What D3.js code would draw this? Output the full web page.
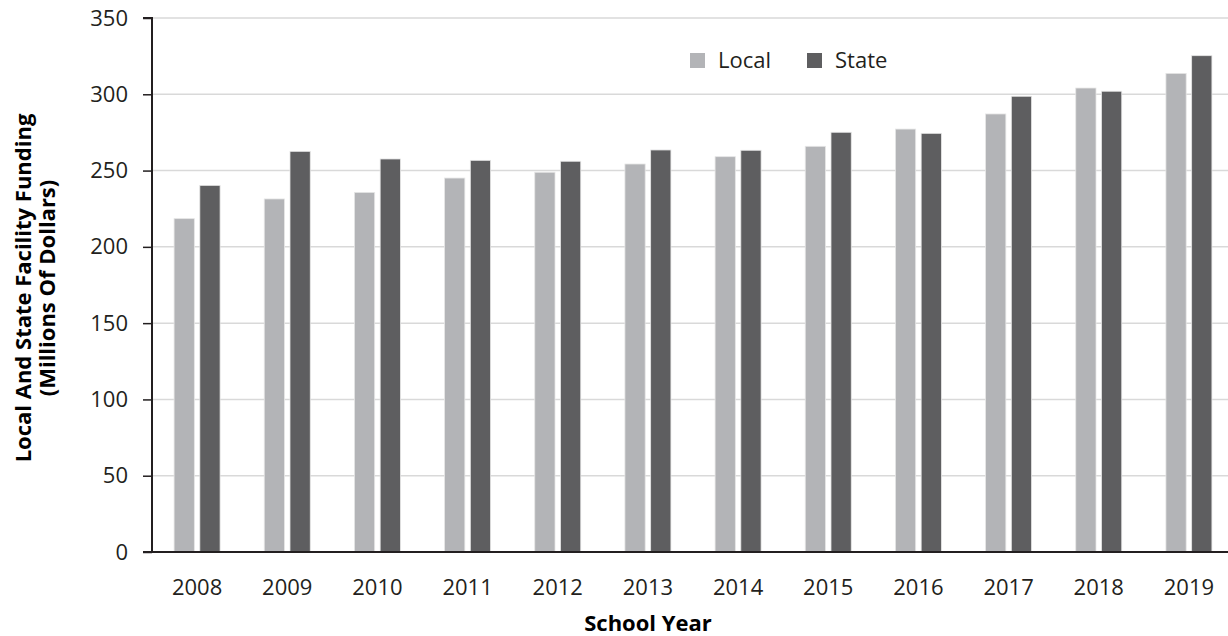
<!DOCTYPE html>
<html><head><meta charset="utf-8">
<script src="https://cdn.jsdelivr.net/npm/d3@7"></script>
<style>body{margin:0;background:#fff}svg{display:block}text{font-family:"Open Sans","Noto Sans",sans-serif}</style>
</head><body>
<svg id="c" width="1228" height="636"></svg>
<script>
const years = ["2008","2009","2010","2011","2012","2013","2014","2015","2016","2017","2018","2019"];
const seriesNames = ["Local","State"];
const localValues = [218.5,231.4,235.7,245.1,248.9,254.3,259.1,265.9,277.2,287.1,304.1,313.7];
const stateValues = [240.3,262.6,257.6,256.7,256.1,263.5,263.3,275.1,274.4,298.7,302.0,325.3];
const yTicks = [0,50,100,150,200,250,300,350];
const colors = {Local:"#b3b4b7", State:"#5e5e60"};

(function(){
const svg = d3.select("#c");
const pL = 152, pR = 1234, pT = 18, pB = 552;
const x0 = d3.scaleBand().domain(years).range([pL,pR]).padding(0);
const groupW = 46;
const x1 = d3.scaleBand().domain(seriesNames).range([0,groupW]).paddingInner(0.213);
const y = d3.scaleLinear().domain([0,350]).range([pB,pT]);

svg.append("g").selectAll("line").data(yTicks.filter(d=>d>0)).join("line")
  .attr("x1",pL).attr("x2",1228).attr("y1",d=>y(d)).attr("y2",d=>y(d))
  .attr("stroke","#d9d9d9").attr("stroke-width",1.5);

const data = years.map((yr,i)=>({year:yr, Local:localValues[i], State:stateValues[i]}));
const g = svg.append("g").selectAll("g").data(data).join("g")
  .attr("transform",d=>`translate(${x0(d.year)+(x0.bandwidth()-groupW)/2},0)`);
g.selectAll("rect").data(d=>seriesNames.map(k=>({k,v:d[k]}))).join("rect")
  .attr("x",d=>x1(d.k)).attr("width",x1.bandwidth())
  .attr("y",d=>y(d.v)).attr("height",d=>pB-y(d.v))
  .attr("fill",d=>colors[d.k]).attr("stroke","#e6e6e6").attr("stroke-width",0.8);

const yAxis = d3.axisLeft(y).tickValues(yTicks).tickSize(9).tickPadding(15);
const ya = svg.append("g").attr("transform",`translate(${pL},0)`).call(yAxis);
ya.select(".domain").attr("stroke","#231f20").attr("stroke-width",2).attr("d",`M-9,${pT}H0V${pB}`);
ya.selectAll(".tick line").attr("stroke","#231f20").attr("stroke-width",1.5);
ya.selectAll(".tick text").attr("font-size",22).attr("fill","#231f20").style("font-family","'Open Sans',sans-serif");

const xAxis = d3.axisBottom(x0).tickSize(0).tickPadding(27);
const xa = svg.append("g").attr("transform",`translate(0,${pB})`).call(xAxis);
xa.select(".domain").attr("stroke","#231f20").attr("stroke-width",2).attr("d",`M143,0H1228`);
xa.selectAll(".tick text").attr("font-size",22).attr("fill","#231f20").style("font-family","'Open Sans',sans-serif");

svg.append("text").attr("x",648).attr("y",631).attr("text-anchor","middle")
  .attr("font-size",22).attr("font-weight","bold").attr("fill","#000").text("School Year");
const yt = svg.append("text").attr("transform","translate(0,288) rotate(-90)")
  .attr("text-anchor","middle").attr("font-size",22).attr("font-weight","bold").attr("fill","#000");
yt.append("tspan").attr("x",0).attr("y",31).text("Local And State Facility Funding");
yt.append("tspan").attr("x",0).attr("y",55).text("(Millions Of Dollars)");

const lg = svg.append("g");
const lx = {Local:690, State:807};
seriesNames.forEach(k=>{
  lg.append("rect").attr("x",lx[k]).attr("y",53).attr("width",15).attr("height",15).attr("fill",colors[k]);
  lg.append("text").attr("x",lx[k]+28).attr("y",68).attr("font-size",22).attr("fill","#231f20").text(k);
});
})();
</script>
</body></html>
